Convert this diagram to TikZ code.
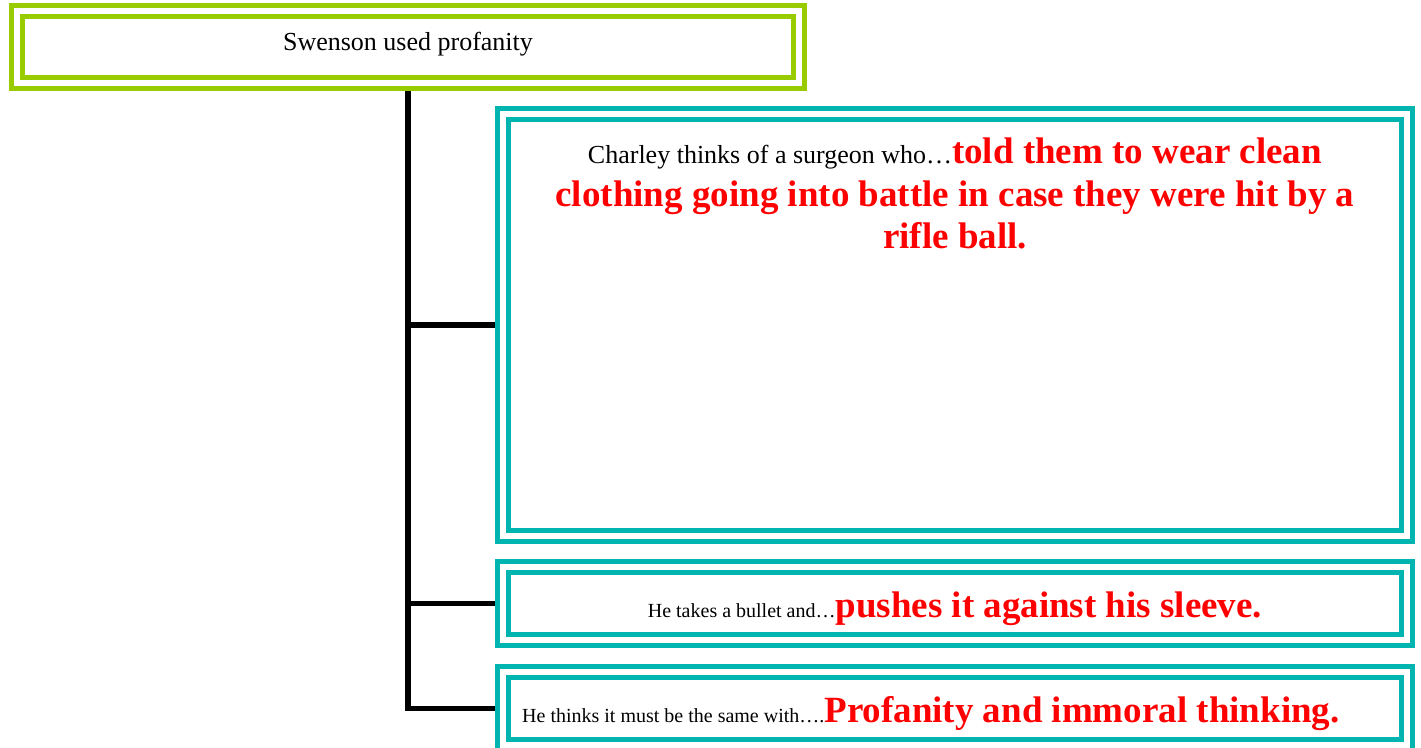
\documentclass[tikz,border=0pt]{standalone}
\usepackage{fontspec}
\setmainfont{Liberation Serif}
\usetikzlibrary{positioning}

\definecolor{leafgreen}{RGB}{153,204,0}
\definecolor{seateal}{RGB}{0,181,176}
\definecolor{hotred}{RGB}{255,0,0}

% black lead-in text set inside a red note
\newcommand{\leadtext}[2]{{\color{black}\mdseries\fontsize{#1}{#1}\selectfont #2}}

\begin{document}
\begin{tikzpicture}[
    x=1pt, y=-1pt,
    topbox/.style={rectangle, draw=leafgreen, double=white, line width=5pt, double distance=6pt, outer sep=8pt, inner sep=0pt, minimum width=782pt, minimum height=72pt, font=\fontsize{26}{30}\selectfont, text height=18pt, text depth=12pt},
    sidebox/.style={rectangle, draw=seateal, double=white, line width=5pt, double distance=6pt, outer sep=8pt, inner sep=0pt, minimum width=904pt},
    note/.style={inner sep=0pt, text=hotred, font=\fontsize{37}{42.5}\selectfont\bfseries},
    link/.style={draw=black, line width=5.5pt}
]
\useasboundingbox (0,0) rectangle (1421,747);

% Main event
\node[topbox] (title) at (408,47) {Swenson used profanity};

% Detail boxes
\node[sidebox, minimum height=422pt] (box1) at (955,325) {};
\node[sidebox, minimum height=73pt] (box2) at (955,603.5) {};
\node[sidebox, minimum height=73pt] (box3) at (955,708.5) {};

% Texts in the boxes
\node[note, anchor=north, align=center, below=32pt of box1.north] (surgeon)
    {\leadtext{26}{Charley thinks of a surgeon who…}told them to wear clean\\
     clothing going into battle in case they were hit by a\\
     rifle ball.};
\node[note, anchor=base] (bullet) at ([yshift=-13.5pt]box2.center)
    {\leadtext{20}{He takes a bullet and…}pushes it against his sleeve.};
\node[note, anchor=base west] (profanity) at ([xshift=27pt,yshift=-13.5pt]box3.west)
    {\leadtext{20}{He thinks it must be the same with….}Profanity and immoral thinking.};

% Connectors
\draw[link] (title.south) |- (box3.west);
\draw[link] (title.south |- box1.west) -- (box1.west);
\draw[link] (title.south |- box2.west) -- (box2.west);

\end{tikzpicture}
\end{document}
